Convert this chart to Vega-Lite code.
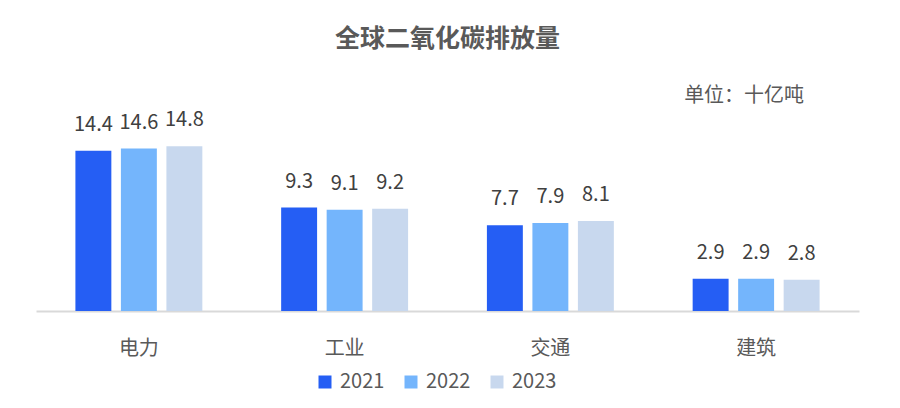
{
  "$schema": "https://vega.github.io/schema/vega-lite/v6.json",
  "width": 823,
  "height": 178,
  "autosize": {"type": "none"},
  "padding": {"left": 36, "top": 133, "right": 41, "bottom": 97},
  "background": "white",
  "config": {
    "view": {"stroke": null},
    "font": "Noto Sans CJK SC"
  },
  "title": {
    "text": "全球二氧化碳排放量",
    "fontSize": 25,
    "fontWeight": "bold",
    "color": "#595959",
    "anchor": "middle",
    "frame": "group",
    "offset": 34
  },
  "data": {
    "values": [
      {"category": "电力", "year": "2021", "value": 14.4},
      {"category": "电力", "year": "2022", "value": 14.6},
      {"category": "电力", "year": "2023", "value": 14.8},
      {"category": "工业", "year": "2021", "value": 9.3},
      {"category": "工业", "year": "2022", "value": 9.1},
      {"category": "工业", "year": "2023", "value": 9.2},
      {"category": "交通", "year": "2021", "value": 7.7},
      {"category": "交通", "year": "2022", "value": 7.9},
      {"category": "交通", "year": "2023", "value": 8.1},
      {"category": "建筑", "year": "2021", "value": 2.9},
      {"category": "建筑", "year": "2022", "value": 2.9},
      {"category": "建筑", "year": "2023", "value": 2.8}
    ]
  },
  "layer": [
    {
      "mark": {"type": "bar"},
      "encoding": {
        "x": {
          "field": "category", "type": "nominal",
          "sort": ["电力", "工业", "交通", "建筑"],
          "scale": {"paddingInner": 0, "paddingOuter": 0},
          "axis": {
            "title": null, "labelAngle": 0, "ticks": false,
            "domainColor": "#D9D9D9", "domainWidth": 2,
            "labelFontSize": 20, "labelColor": "#595959",
            "labelPadding": 37, "labelBaseline": "middle"
          }
        },
        "xOffset": {
          "field": "year", "type": "nominal",
          "scale": {"paddingInner": 0.21, "paddingOuter": 0.866}
        },
        "y": {
          "field": "value", "type": "quantitative",
          "scale": {"domain": [0, 16], "nice": false},
          "axis": null
        },
        "color": {
          "field": "year", "type": "nominal",
          "scale": {"domain": ["2021", "2022", "2023"], "range": ["#255EF4", "#74B5FC", "#C8D8EE"]},
          "legend": {
            "orient": "none", "legendX": 279, "legendY": 239,
            "direction": "horizontal", "title": null,
            "symbolType": "square", "symbolSize": 169, "symbolStrokeWidth": 0,
            "labelFontSize": 20, "labelColor": "#595959",
            "labelOffset": 5, "columnPadding": 16
          }
        }
      }
    },
    {
      "mark": {"type": "text", "baseline": "alphabetic", "dy": -20, "fontSize": 20, "color": "#404040"},
      "encoding": {
        "x": {"field": "category", "type": "nominal", "sort": ["电力", "工业", "交通", "建筑"]},
        "xOffset": {"field": "year", "type": "nominal"},
        "y": {"field": "value", "type": "quantitative"},
        "text": {"field": "value", "type": "quantitative", "format": ".1f"}
      }
    },
    {
      "data": {"values": [{"label": "单位：十亿吨", "category": "建筑", "value": 16}]},
      "mark": {"type": "text", "fontSize": 20, "color": "#595959", "baseline": "middle", "align": "center", "dx": -12, "dy": -37},
      "encoding": {
        "x": {"field": "category", "type": "nominal", "sort": ["电力", "工业", "交通", "建筑"]},
        "y": {"field": "value", "type": "quantitative"},
        "text": {"field": "label"}
      }
    }
  ]
}
